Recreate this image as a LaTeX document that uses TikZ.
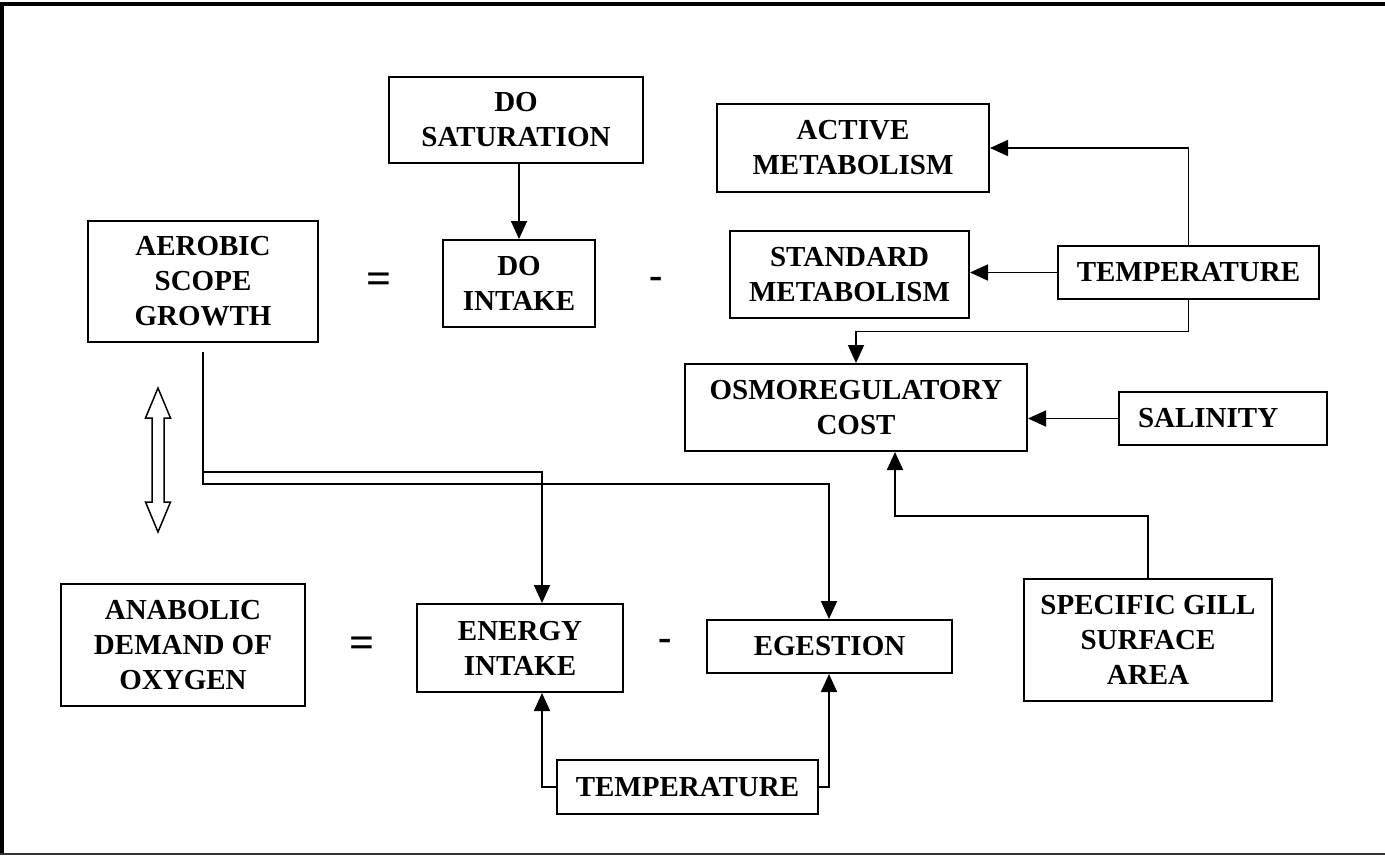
\documentclass[tikz,border=0pt]{standalone}
\usepackage{fontspec}
\setmainfont{Liberation Serif}
\usetikzlibrary{arrows.meta, calc}

\begin{document}
\begin{tikzpicture}[
        x=1pt, y=-1pt,
        ->,
        > ={Triangle[length=18pt,width=16pt]},
        line width=1.8pt,
        box/.style={
            draw,
            -,
            line width=2pt,
            align=center,
            inner sep=0pt,
            font=\fontsize{29}{35}\selectfont\bfseries,
        },
        sign/.style={
            -,
            inner sep=0pt,
            font=\fontsize{44}{44}\selectfont\bfseries,
        },
    ]
    \useasboundingbox (0,0) rectangle (1385,855);

    % frame
    \draw[-, line width=4pt] (2,855) -- (2,3.5) -- (1385,3.5);
    \draw[-, black!80] (0,854) -- (1385,854);

    % oxygen row
    \node[box, minimum width=254pt, minimum height=86pt] (DS) at (516,120) {DO\\SATURATION};
    \node[box, minimum width=230pt, minimum height=121pt] (AS) at (203,281.5) {AEROBIC\\SCOPE\\GROWTH};
    \node[sign] (eqA) at (379,283) {=};
    \node[box, minimum width=152pt, minimum height=87pt] (DI) at (519,283.5) {DO\\INTAKE};
    \node[sign, font=\fontsize{40}{40}\selectfont\bfseries] (minA) at (656,283) {-};
    \node[box, minimum width=272pt, minimum height=88pt] (AM) at (853,148) {ACTIVE\\METABOLISM};
    \node[box, minimum width=239pt, minimum height=87pt] (SM) at (849.5,274.5) {STANDARD\\METABOLISM};
    \node[box, minimum width=261pt, minimum height=53pt] (T1) at (1188.5,272.5) {TEMPERATURE};
    \node[box, minimum width=342pt, minimum height=87pt] (OC) at (856,407.5) {OSMOREGULATORY\\COST};
    \node[box, minimum width=208pt, minimum height=53pt, text width=170pt, align=left] (SA) at (1223,418.5) {SALINITY};
    \node[box, minimum width=248pt, minimum height=122pt] (SG) at (1148,640) {SPECIFIC GILL\\SURFACE\\AREA};

    % energy row
    \node[box, minimum width=244pt, minimum height=122pt] (AD) at (183,645) {ANABOLIC\\DEMAND OF\\OXYGEN};
    \node[sign] (eqB) at (362,647) {=};
    \node[box, minimum width=206pt, minimum height=88pt] (EI) at (520,648) {ENERGY\\INTAKE};
    \node[sign, font=\fontsize{40}{40}\selectfont\bfseries] (minB) at (665,645) {-};
    \node[box, minimum width=245pt, minimum height=53pt] (EG) at (829.5,646.5) {EGESTION};
    \node[box, minimum width=261pt, minimum height=54pt] (T2) at (687.5,787) {TEMPERATURE};

    \coordinate (ASfoot) at (203,352);
    \coordinate (EIbend) at (542,472);
    \coordinate (EGbend) at (829,484);
    \coordinate (SGbend) at (895,516);

    \draw (DI.north |- DS.south) -- (DI.north);
    \draw (T1.north) |- (AM.east);
    \draw (T1.west) -- (SM.east |- T1.west);
    \draw (T1.south) -- ++(0,31.5) -| (OC.north);
    \draw (SA.west) -- (OC.east |- SA.west);
    \draw (SG.north) |- (SGbend) -- (SGbend |- OC.south);

    \draw (ASfoot) |- (EIbend) -- (EIbend |- EI.north);
    \draw (ASfoot) |- (EGbend) -- (EGbend |- EG.north);
    \draw (T2.west) -| (EIbend |- EI.south);
    \draw (T2.east) -| (EGbend |- EG.south);

    % hollow double arrow
    \coordinate (DA) at (158,460);
    \draw[-, line width=1.5pt, line join=miter]
        ($(DA)+(0,-72)$) -- ++(12.5,30) -- ++(-6.5,0) -- ++(0,84) -- ++(6.5,0)
        -- ++(-12.5,30) -- ++(-12.5,-30) -- ++(6.5,0) -- ++(0,-84) -- ++(-6.5,0) -- cycle;
\end{tikzpicture}
\end{document}
